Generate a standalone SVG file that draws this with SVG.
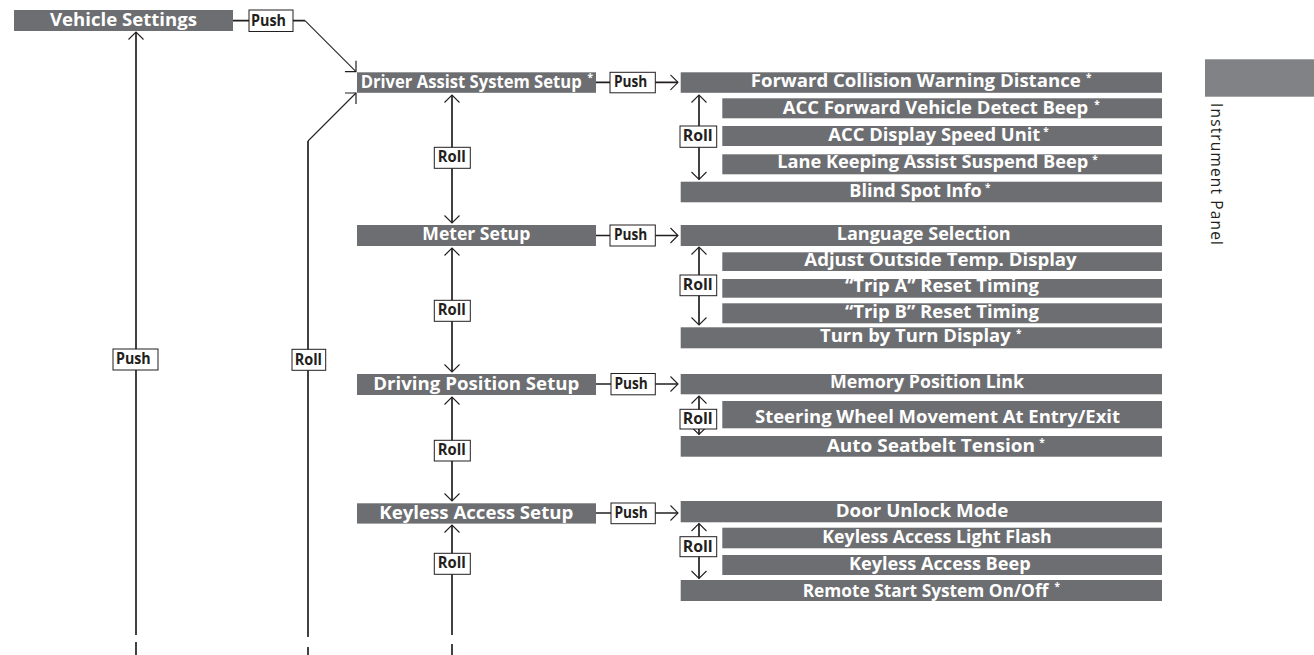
<svg xmlns="http://www.w3.org/2000/svg" width="1314" height="655" viewBox="0 0 1314 655">
<style>
.bar{fill:#6d6e71}
.bt{font-family:"Open Sans","Liberation Sans",sans-serif;font-weight:700;font-size:18px;fill:#ffffff}
.sm{font-size:17px}
.ast{font-size:10px}
.ln{stroke:#231f20;stroke-width:1.7;fill:none}
.thin{stroke-width:1.1}
.lb{fill:#ffffff;stroke:#231f20;stroke-width:1}
.lt{font-family:"Open Sans","Liberation Sans",sans-serif;font-weight:700;font-size:16px;fill:#231f20}
.tab{fill:#808285}
.side{font-family:"Open Sans","Liberation Sans",sans-serif;font-size:15.5px;fill:#231f20}
</style>
<defs>
<marker id="ah" markerUnits="userSpaceOnUse" viewBox="-12 -12 24 24" markerWidth="24" markerHeight="24" refX="0" refY="0" orient="auto-start-reverse">
<path d="M-7.5,-7.5 L0,0 L-7.5,7.5" fill="none" stroke="#231f20" stroke-width="1.1"/>
</marker>
<marker id="ahd" markerUnits="userSpaceOnUse" viewBox="-12 -12 24 24" markerWidth="24" markerHeight="24" refX="0" refY="0" orient="auto">
<path d="M-7.8,-7.8 L0,0 L-7.8,7.8" fill="none" stroke="#231f20" stroke-width="1.2"/>
</marker>
</defs>
<rect width="1314" height="655" fill="#ffffff"/>

<g id="connectors">
<path class="ln" d="M233,20.7 H305"/>
<path class="ln thin" d="M305,20.7 L356,71.7" marker-end="url(#ahd)"/>
<path class="ln" d="M136,635 V32" marker-end="url(#ah)"/>
<path class="ln" d="M136,642 V655"/>
<path class="ln" d="M308,637 V141"/>
<path class="ln thin" d="M308,141 L356,93" marker-end="url(#ahd)"/>
<path class="ln" d="M308,647 V655"/>
<path class="ln" d="M596,82.3 H678" marker-end="url(#ah)"/>
<path class="ln" d="M596,235.5 H678" marker-end="url(#ah)"/>
<path class="ln" d="M596,384 H678" marker-end="url(#ah)"/>
<path class="ln" d="M596,513 H678" marker-end="url(#ah)"/>
<path class="ln" d="M452,95 V223" marker-start="url(#ah)" marker-end="url(#ah)"/>
<path class="ln" d="M452,248 V372" marker-start="url(#ah)" marker-end="url(#ah)"/>
<path class="ln" d="M452,397 V501" marker-start="url(#ah)" marker-end="url(#ah)"/>
<path class="ln" d="M452,525 V635" marker-start="url(#ah)"/>
<path class="ln" d="M452,644 V655"/>
<path class="ln" d="M699,95 V179.5" marker-start="url(#ah)" marker-end="url(#ah)"/>
<path class="ln" d="M699,247 V325" marker-start="url(#ah)" marker-end="url(#ah)"/>
<path class="ln" d="M699,396 V434.5" marker-start="url(#ah)" marker-end="url(#ah)"/>
<path class="ln" d="M699,523.5 V578.5" marker-start="url(#ah)" marker-end="url(#ah)"/>
</g>

<g id="connector-labels">
<rect class="lb" x="249" y="10" width="44" height="21.5"/>
<text class="lt" x="251" y="25.8" textLength="35" lengthAdjust="spacingAndGlyphs">Push</text>
<rect class="lb" x="113" y="349" width="45" height="21"/>
<text class="lt" x="116" y="364.3" textLength="34.7" lengthAdjust="spacingAndGlyphs">Push</text>
<rect class="lb" x="292" y="349.3" width="33.7" height="21"/>
<text class="lt" x="294.7" y="364.5" textLength="27.3" lengthAdjust="spacingAndGlyphs">Roll</text>
<rect class="lb" x="610" y="72.3" width="45.3" height="20.5"/>
<text class="lt" x="614" y="87" textLength="33.3" lengthAdjust="spacingAndGlyphs">Push</text>
<rect class="lb" x="610" y="225" width="45.3" height="21"/>
<text class="lt" x="614" y="240" textLength="33.3" lengthAdjust="spacingAndGlyphs">Push</text>
<rect class="lb" x="611" y="373.5" width="44.3" height="21.3"/>
<text class="lt" x="614.5" y="388.7" textLength="33.3" lengthAdjust="spacingAndGlyphs">Push</text>
<rect class="lb" x="611" y="503" width="44.3" height="20.7"/>
<text class="lt" x="614.5" y="518" textLength="33.3" lengthAdjust="spacingAndGlyphs">Push</text>
<rect class="lb" x="434.3" y="147.3" width="36" height="21"/>
<text class="lt" x="437.7" y="162.4" textLength="28" lengthAdjust="spacingAndGlyphs">Roll</text>
<rect class="lb" x="434.3" y="300.3" width="36" height="21"/>
<text class="lt" x="437.7" y="315.4" textLength="28" lengthAdjust="spacingAndGlyphs">Roll</text>
<rect class="lb" x="434.3" y="440.3" width="36" height="20.7"/>
<text class="lt" x="437.7" y="455.3" textLength="28" lengthAdjust="spacingAndGlyphs">Roll</text>
<rect class="lb" x="434.3" y="553.3" width="36" height="21"/>
<text class="lt" x="437.7" y="568.4" textLength="28" lengthAdjust="spacingAndGlyphs">Roll</text>
<rect class="lb" x="680" y="126" width="36.7" height="21.3"/>
<text class="lt" x="682.7" y="141" textLength="30" lengthAdjust="spacingAndGlyphs">Roll</text>
<rect class="lb" x="680" y="275" width="36.7" height="20.7"/>
<text class="lt" x="682.7" y="290" textLength="30" lengthAdjust="spacingAndGlyphs">Roll</text>
<rect class="lb" x="680" y="409.3" width="36.7" height="19.7"/>
<text class="lt" x="682.7" y="423.8" textLength="30" lengthAdjust="spacingAndGlyphs">Roll</text>
<rect class="lb" x="680" y="536.7" width="36.7" height="20"/>
<text class="lt" x="682.7" y="551.5" textLength="30" lengthAdjust="spacingAndGlyphs">Roll</text>
</g>

<g id="vehicle-settings">
<rect class="bar" x="14" y="10" width="219" height="21"/>
<text class="bt" x="50" y="26" textLength="147" lengthAdjust="spacingAndGlyphs">Vehicle Settings</text>
</g>

<g id="driver-assist-system-setup">
<rect class="bar" x="357" y="72.3" width="239" height="20.5"/>
<text class="bt sm" x="360.7" y="87.5"><tspan textLength="221" lengthAdjust="spacingAndGlyphs">Driver Assist System Setup</tspan><tspan class="ast" x="587.5" y="80.5">*</tspan></text>
</g>
<g id="meter-setup">
<rect class="bar" x="357" y="225" width="239" height="21"/>
<text class="bt" x="422.3" y="240.2" textLength="108" lengthAdjust="spacingAndGlyphs">Meter Setup</text>
</g>
<g id="driving-position-setup">
<rect class="bar" x="357" y="374" width="239" height="21"/>
<text class="bt" x="373.3" y="390" textLength="206" lengthAdjust="spacingAndGlyphs">Driving Position Setup</text>
</g>
<g id="keyless-access-setup">
<rect class="bar" x="357" y="503.3" width="239" height="20.3"/>
<text class="bt" x="379.3" y="518.5" textLength="194" lengthAdjust="spacingAndGlyphs">Keyless Access Setup</text>
</g>

<g id="forward-collision-warning-distance">
<rect class="bar" x="680.7" y="72.3" width="481.3" height="20.5"/>
<text class="bt" x="750.7" y="86.8"><tspan textLength="330" lengthAdjust="spacingAndGlyphs">Forward Collision Warning Distance</tspan><tspan class="ast" x="1086" y="80.5">*</tspan></text>
</g>
<g id="acc-forward-vehicle-detect-beep">
<rect class="bar" x="722.3" y="98.3" width="439.7" height="20"/>
<text class="bt" x="782.7" y="114.3"><tspan textLength="305.6" lengthAdjust="spacingAndGlyphs">ACC Forward Vehicle Detect Beep</tspan><tspan class="ast" x="1094.3" y="107.8">*</tspan></text>
</g>
<g id="acc-display-speed-unit">
<rect class="bar" x="722.3" y="126" width="439.7" height="20"/>
<text class="bt" x="828.3" y="140.7"><tspan textLength="212" lengthAdjust="spacingAndGlyphs">ACC Display Speed Unit</tspan><tspan class="ast" x="1043.3" y="135.4">*</tspan></text>
</g>
<g id="lane-keeping-assist-suspend-beep">
<rect class="bar" x="722.3" y="154.3" width="439.7" height="20"/>
<text class="bt" x="777.3" y="168.3"><tspan textLength="311" lengthAdjust="spacingAndGlyphs">Lane Keeping Assist Suspend Beep</tspan><tspan class="ast" x="1092.3" y="163.1">*</tspan></text>
</g>
<g id="blind-spot-info">
<rect class="bar" x="680.7" y="181.7" width="481.3" height="20.6"/>
<text class="bt" x="849.3" y="197.3"><tspan textLength="132.4" lengthAdjust="spacingAndGlyphs">Blind Spot Info</tspan><tspan class="ast" x="985" y="191.1">*</tspan></text>
</g>

<g id="language-selection">
<rect class="bar" x="680.7" y="225" width="481.3" height="21"/>
<text class="bt" x="836.7" y="240" textLength="174" lengthAdjust="spacingAndGlyphs">Language Selection</text>
</g>
<g id="adjust-outside-temp-display">
<rect class="bar" x="722.3" y="252.3" width="439.7" height="18.7"/>
<text class="bt" x="804.3" y="265.7" textLength="272.4" lengthAdjust="spacingAndGlyphs">Adjust Outside Temp. Display</text>
</g>
<g id="trip-a-reset-timing">
<rect class="bar" x="722.3" y="279" width="439.7" height="18.7"/>
<text class="bt" x="845" y="292.3" textLength="194" lengthAdjust="spacingAndGlyphs">“Trip A” Reset Timing</text>
</g>
<g id="trip-b-reset-timing">
<rect class="bar" x="722.3" y="303.3" width="439.7" height="20"/>
<text class="bt" x="845" y="318.3" textLength="194" lengthAdjust="spacingAndGlyphs">“Trip B” Reset Timing</text>
</g>
<g id="turn-by-turn-display">
<rect class="bar" x="680.7" y="327.3" width="481.3" height="21"/>
<text class="bt" x="820" y="341.7"><tspan textLength="190.7" lengthAdjust="spacingAndGlyphs">Turn by Turn Display</tspan><tspan class="ast" x="1016" y="337.1">*</tspan></text>
</g>

<g id="memory-position-link">
<rect class="bar" x="680.7" y="374" width="481.3" height="20.3"/>
<text class="bt" x="830" y="388.3" textLength="194" lengthAdjust="spacingAndGlyphs">Memory Position Link</text>
</g>
<g id="steering-wheel-movement">
<rect class="bar" x="722.3" y="401" width="439.7" height="27.3"/>
<text class="bt" x="755" y="422.7" textLength="365" lengthAdjust="spacingAndGlyphs">Steering Wheel Movement At Entry/Exit</text>
</g>
<g id="auto-seatbelt-tension">
<rect class="bar" x="680.7" y="436" width="481.3" height="20.7"/>
<text class="bt" x="826.7" y="451.7"><tspan textLength="208.3" lengthAdjust="spacingAndGlyphs">Auto Seatbelt Tension</tspan><tspan class="ast" x="1039.3" y="446.4">*</tspan></text>
</g>

<g id="door-unlock-mode">
<rect class="bar" x="680.7" y="501" width="481.3" height="21.3"/>
<text class="bt" x="835.7" y="516.7" textLength="172.6" lengthAdjust="spacingAndGlyphs">Door Unlock Mode</text>
</g>
<g id="keyless-access-light-flash">
<rect class="bar" x="722.3" y="527.7" width="439.7" height="20.6"/>
<text class="bt" x="822.3" y="543.3" textLength="229.4" lengthAdjust="spacingAndGlyphs">Keyless Access Light Flash</text>
</g>
<g id="keyless-access-beep">
<rect class="bar" x="722.3" y="555" width="439.7" height="20"/>
<text class="bt" x="849" y="570" textLength="181.7" lengthAdjust="spacingAndGlyphs">Keyless Access Beep</text>
</g>
<g id="remote-start-system">
<rect class="bar" x="680.7" y="580" width="481.3" height="21"/>
<text class="bt sm" x="802.7" y="596.7"><tspan textLength="245.6" lengthAdjust="spacingAndGlyphs">Remote Start System On/Off</tspan><tspan class="ast" x="1054.5" y="590.4">*</tspan></text>
</g>

<g id="section-tab">
<rect class="tab" x="1205" y="59.3" width="109" height="37.4"/>
<text class="side" transform="translate(1210.5,103) rotate(90)" x="0" y="0" textLength="142">Instrument Panel</text>
</g>
</svg>
